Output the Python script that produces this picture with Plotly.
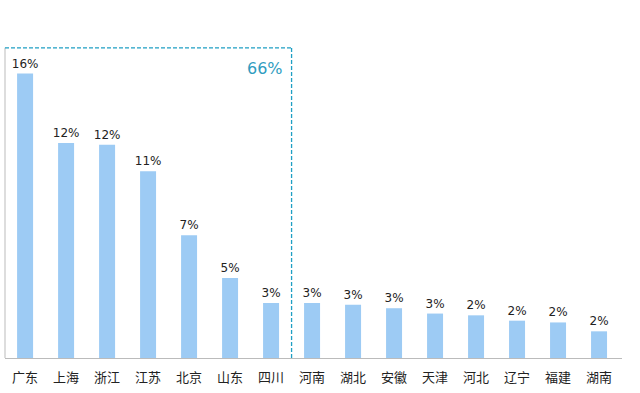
import plotly.graph_objects as go

provinces = ["广东", "上海", "浙江", "江苏", "北京", "山东", "四川", "河南",
             "湖北", "安徽", "天津", "河北", "辽宁", "福建", "湖南"]
values = [16.0, 12.1, 12.0, 10.5, 6.9, 4.5, 3.1, 3.1, 3.0, 2.8, 2.5, 2.4, 2.1, 2.0, 1.5]
labels = ["16%", "12%", "12%", "11%", "7%", "5%", "3%", "3%", "3%", "3%", "3%",
          "2%", "2%", "2%", "2%"]
top_share_label = "66%"
box_top = 17.45
box_right = 6.5

fig = go.Figure()
fig.add_trace(go.Bar(
    x=list(range(len(provinces))), y=values,
    text=labels, textposition="outside", constraintext="none",
    textfont=dict(family="DejaVu Sans", size=12, color="#222222"),
    marker=dict(color="#9dcbf4", line=dict(width=0)),
    cliponaxis=False,
))

fig.update_layout(
    width=640, height=393,
    margin=dict(l=5, r=18, t=38, b=35),
    paper_bgcolor="white", plot_bgcolor="white",
    showlegend=False, bargap=0.61,
    xaxis=dict(range=[-0.49, 14.56], tickmode="array",
               tickvals=list(range(len(provinces))), ticktext=provinces,
               showgrid=False, zeroline=False, showline=True,
               linecolor="#bbbbbb", linewidth=1, ticks="", ticklabelstandoff=7,
               tickfont=dict(family="Noto Sans CJK SC", size=13, color="#222222")),
    yaxis=dict(range=[0, 18], visible=False),
)

# left solid side of box
fig.add_shape(type="line", xref="paper", yref="y", x0=0, x1=0, y0=0, y1=box_top,
              line=dict(color="#bbbbbb", width=1))
# dashed top + right of box
fig.add_shape(type="line", xref="x", yref="y", x0=-0.49, x1=box_right, y0=box_top, y1=box_top,
              line=dict(color="#1f9fc4", width=1.3, dash="4px,2px"))
fig.add_shape(type="line", xref="x", yref="y", x0=box_right, x1=box_right, y0=0, y1=box_top,
              line=dict(color="#1f9fc4", width=1.3, dash="4px,2px"))

fig.add_annotation(x=5.85, y=16.3, xref="x", yref="y", text=top_share_label,
                   showarrow=False, font=dict(family="DejaVu Sans", size=16, color="#2f9cc0"))

fig.write_html("out.html")
